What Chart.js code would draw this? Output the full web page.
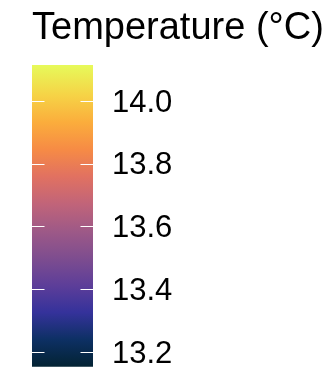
<!DOCTYPE html>
<html>
<head>
<meta charset="utf-8">
<script src="https://cdn.jsdelivr.net/npm/chart.js@4"></script>
<style>
  html, body { margin: 0; padding: 0; background: #fff; }
  #wrap { width: 333px; height: 372px; }
</style>
</head>
<body>
<div id="wrap"><canvas id="c" width="333" height="372"></canvas></div>
<script>
// ---- data ----
const titleText = 'Temperature (°C)';
const categories = [''];
const colorMin = 13.1547;   // bottom of the colour bar
const colorMax = 14.1163;   // top of the colour bar
const tickValues = [13.2, 13.4, 13.6, 13.8, 14.0];
const tickLabels = ['13.2', '13.4', '13.6', '13.8', '14.0'];
// thermal colour scale stops (fraction, colour)
const scaleStops = [0, 0.09, 0.18, 0.27, 0.36, 0.45, 0.54, 0.63, 0.72, 0.81, 0.90, 1];
const scaleColors = ['rgb(3,35,51)', 'rgb(13,48,100)', 'rgb(53,50,155)', 'rgb(93,62,153)',
  'rgb(126,77,143)', 'rgb(158,89,135)', 'rgb(193,100,121)', 'rgb(225,113,97)',
  'rgb(246,139,69)', 'rgb(251,173,60)', 'rgb(246,211,70)', 'rgb(231,250,90)'];

function gradientFill(context) {
  const chart = context.chart;
  const area = chart.chartArea;
  if (!area) return scaleColors[0];
  const y = chart.scales.y;
  const g = chart.ctx.createLinearGradient(0, y.getPixelForValue(colorMin), 0, y.getPixelForValue(colorMax));
  scaleStops.forEach((s, i) => g.addColorStop(s, scaleColors[i]));
  return g;
}

// white tick marks on both edges of the colour bar, at the y-scale tick positions
const barTicks = {
  id: 'barTicks',
  afterDatasetsDraw(chart) {
    const { ctx, chartArea } = chart;
    const y = chart.scales.y;
    const len = 12.5;
    ctx.save();
    ctx.strokeStyle = '#ffffff';
    ctx.lineWidth = 1;
    y.ticks.forEach(t => {
      const py = Math.round(y.getPixelForValue(t.value) - 0.5) + 0.5;
      ctx.beginPath();
      ctx.moveTo(chartArea.left, py);
      ctx.lineTo(chartArea.left + len, py);
      ctx.moveTo(chartArea.right - len, py);
      ctx.lineTo(chartArea.right, py);
      ctx.stroke();
    });
    ctx.restore();
  }
};

new Chart(document.getElementById('c'), {
  type: 'bar',
  data: {
    labels: categories,
    datasets: [{
      data: [[colorMin, colorMax]],
      backgroundColor: gradientFill,
      borderWidth: 0,
      barPercentage: 1,
      categoryPercentage: 1
    }]
  },
  plugins: [barTicks],
  options: {
    responsive: false,
    animation: false,
    layout: { padding: { left: 32, right: 0, top: 0, bottom: 5.3 } },
    plugins: {
      legend: { display: false },
      tooltip: { enabled: false },
      title: {
        display: true,
        text: titleText,
        align: 'start',
        color: '#000',
        font: { family: 'Liberation Sans', size: 38, weight: 'normal', lineHeight: 1.2 },
        padding: { top: 6, bottom: 13.4 }
      }
    },
    scales: {
      x: { display: false },
      y: {
        position: 'right',
        min: colorMin,
        max: colorMax,
        afterBuildTicks: (axis) => { axis.ticks = tickValues.map(v => ({ value: v })); },
        afterFit: (scale) => {
          scale.width = 240;
          scale.paddingTop = 0;
          scale.paddingBottom = 0;
        },
        grid: { display: false, drawTicks: false },
        border: { display: false },
        ticks: {
          padding: 19,
          labelOffset: 1.5,
          color: '#000',
          font: { family: 'Liberation Sans', size: 31 },
          callback: (v) => {
            const i = tickValues.findIndex(t => Math.abs(t - v) < 1e-6);
            return i >= 0 ? tickLabels[i] : '';
          }
        }
      }
    }
  }
});
</script>
</body>
</html>
